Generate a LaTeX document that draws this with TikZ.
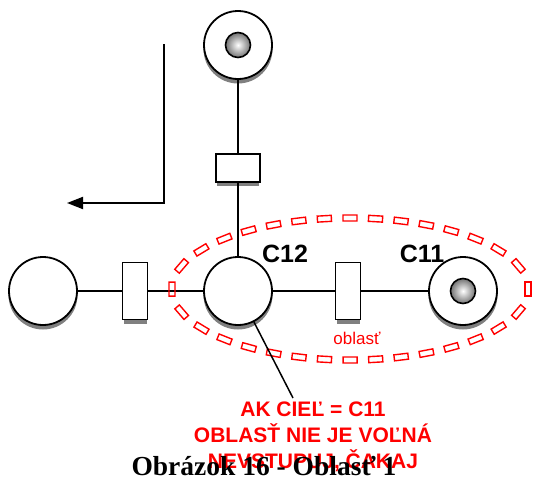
\documentclass[tikz,border=0pt]{standalone}
\usepackage{fontspec}
\setmainfont{Liberation Serif}
\setsansfont{Liberation Sans}
\usetikzlibrary{positioning,arrows.meta,decorations.markings}

\begin{document}
\begin{tikzpicture}[x=1pt,y=-1pt,
  shadowc/.style={fill=black!50},
  place/.style={circle,draw=black,line width=1.8pt,fill=white,minimum size=68pt,inner sep=0pt},
  token/.style={circle,draw=black,line width=1.6pt,inner color=white,outer color=black!55,
    minimum size=25pt,inner sep=0pt},
  trans/.style={rectangle,draw=black,line width=1.6pt,fill=white,inner sep=0pt},
  vtrans/.style={trans,minimum width=25pt,minimum height=57pt},
  htrans/.style={trans,minimum width=44pt,minimum height=28pt},
  arc/.style={line width=1.5pt},
  arr/.style={-{Triangle[length=16pt,width=12pt]},line width=1.8pt},
  dashbox/.style={rectangle,draw=red,line width=1.4pt,minimum width=14pt,minimum height=6pt,
    inner sep=0pt,transform shape},
  lab/.style={font=\sffamily\bfseries\fontsize{25}{25}\selectfont},
  reglab/.style={font=\sffamily\fontsize{17}{17}\selectfont,text=red},
  warn/.style={font=\sffamily\bfseries\fontsize{21}{26}\selectfont,text=red,align=center},
  capt/.style={font=\bfseries\fontsize{27.5}{27.5}\selectfont}]
\useasboundingbox (0,0) rectangle (533,482);
% shadows
\foreach \x/\y in {43/291,238/45,238/291,463/291}
  \fill[shadowc] (\x,\y+4) circle[radius=34.5pt];
\foreach \x/\y/\w/\h in {135/291/25/57,238/168/44/28,348/291/25/57}
  \fill[shadowc] (\x-\w/2+1,\y-\h/2+4) rectangle (\x+\w/2-1,\y+\h/2+4);
% places
\node[place] (p0) at (43,291) {};
\node[place] (pt) at (238,45) {};
\node[place] (c12) at (238,291) {};
\node[place] (c11) at (463,291) {};
\node[token] (tokt) at (pt) {};
\node[token] (tok11) at (c11) {};
% transitions
\node[vtrans] (t0) at (135,291) {};
\node[htrans] (tt) at (238,168) {};
\node[vtrans] (t1) at (348,291) {};
% arcs
\draw[arc] (p0) -- (t0) -- (c12) -- (t1) -- (c11);
\draw[arc] (pt) -- (tt) -- (c12);
% labels
\node[lab] (l12) at (285,254) {C12};
\node[lab] (l11) at (422,254) {C11};
% region
\path[decorate,decoration={markings,
  mark=between positions 0 and 1 step 1/32 with {\node[dashbox] {};}}]
  (350,289) ellipse [x radius=178pt,y radius=71pt];
\node[reglab] (reg) at (357,338) {oblasť};
% arrow
\coordinate (astart) at (164,44);
\coordinate (acorner) at (164,203);
\coordinate (aend) at (67,203);
\draw[arr] (astart) -- (acorner) -- (aend);
% note
\coordinate (tip) at (293,398);
\draw[arc] (c12) -- (tip);
\node[warn] (note) at (313,437) {AK CIEĽ = C11\\OBLASŤ NIE JE VOĽNÁ\\NEVSTUPUJ, ČAKAJ};
\node[capt,anchor=base] (cap) at (264,475) {Obrázok 16 - Oblasť 1};
\end{tikzpicture}
\end{document}
